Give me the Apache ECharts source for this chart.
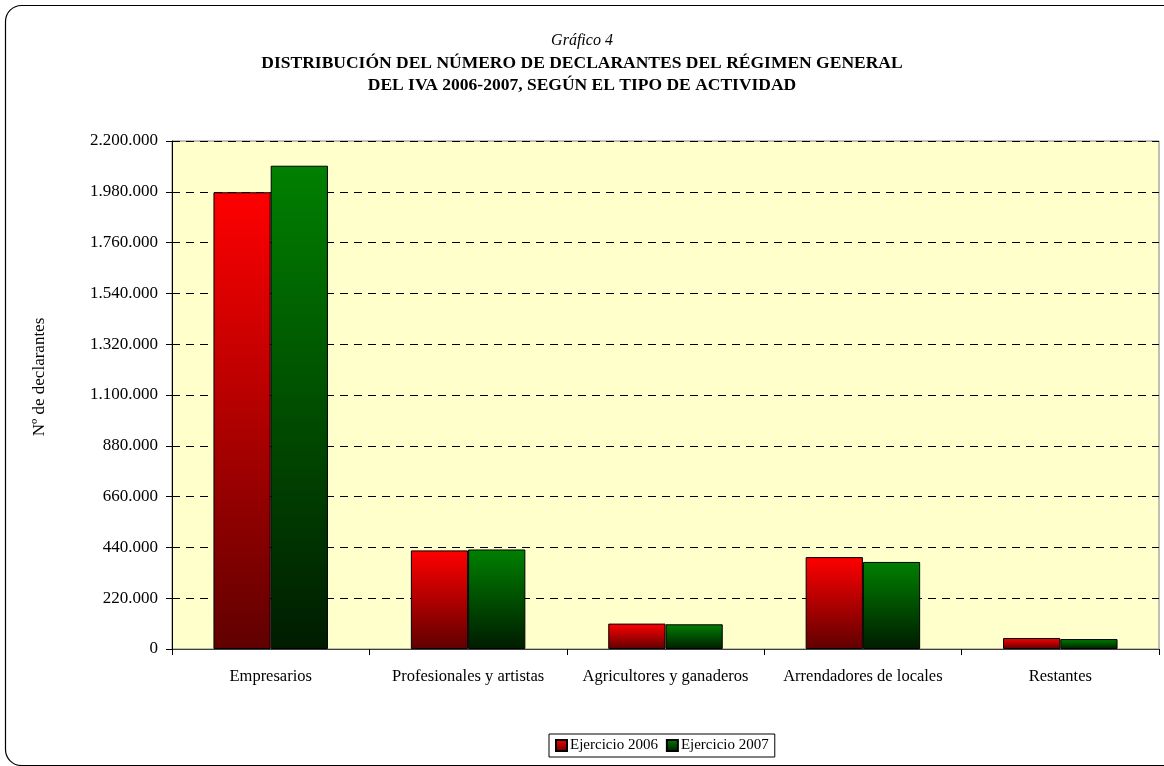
<!DOCTYPE html>
<html>
<head>
<meta charset="utf-8">
<script src="https://cdn.jsdelivr.net/npm/echarts@6/dist/echarts.min.js"></script>
<style>
html,body{margin:0;padding:0;background:#fff;}
#chart{width:1164px;height:766px;}
</style>
</head>
<body>
<div id="chart"></div>
<script>
const categories = ['Empresarios', 'Profesionales y artistas', 'Agricultores y ganaderos', 'Arrendadores de locales', 'Restantes'];
const seriesNames = ['Ejercicio 2006', 'Ejercicio 2007'];
const values2006 = [1978000, 427000, 110000, 398000, 47500];
const values2007 = [2093000, 431000, 107000, 377000, 43000];
const yTicks = { min: 0, max: 2200000, interval: 220000 };
const titleLines = ['Gráfico 4', 'DISTRIBUCIÓN DEL NÚMERO DE DECLARANTES DEL RÉGIMEN GENERAL', 'DEL IVA 2006-2007, SEGÚN EL TIPO DE ACTIVIDAD'];
const yAxisTitle = 'Nº de declarantes';

const FONT = '"Liberation Serif", "Times New Roman", serif';
function fmt(v){ return String(v).replace(/\B(?=(\d{3})+(?!\d))/g, '.'); }
function grad(top, bottom){
  return new echarts.graphic.LinearGradient(0,0,0,1,[{offset:0,color:top},{offset:1,color:bottom}]);
}
const chart = echarts.init(document.getElementById('chart'), null, {renderer:'canvas'});
chart.setOption({
  backgroundColor: '#ffffff',
  animation: false,
  textStyle: { fontFamily: FONT, color: '#000' },
  title: {
    left: 'center', top: 25,
    text: '{i|' + titleLines[0] + '}\n{b|' + titleLines[1] + '}\n{b|' + titleLines[2] + '}',
    textStyle: {
      fontWeight: 'normal',
      rich: {
        i: { fontFamily: FONT, fontStyle: 'italic', fontWeight: 'normal', fontSize: 16, lineHeight: 22, color: '#000' },
        b: { fontFamily: FONT, fontWeight: 'bold', fontSize: 17.5, lineHeight: 22, color: '#000' }
      }
    }
  },
  grid: { left: 172, right: 5, top: 141, bottom: 117, show: true, backgroundColor: '#FFFFCC', borderColor: '#808080', borderWidth: 1 },
  legend: {
    left: 549, top: 734,
    padding: [4, 6, 4, 6],
    borderColor: '#000', borderWidth: 1,
    itemWidth: 11, itemHeight: 11, itemGap: 8,
    icon: 'rect',
    textStyle: { fontFamily: FONT, fontSize: 15, color: '#000', padding: [0,0,0,-2] },
    data: seriesNames
  },
  xAxis: {
    type: 'category',
    data: categories,
    axisLine: { lineStyle: { color: '#404040', width: 1 } },
    axisTick: { show: true, interval: 0, length: 6, lineStyle: { color: '#000' } },
    axisLabel: { interval: 0, fontFamily: FONT, fontSize: 16.5, color: '#000', margin: 19 },
    splitLine: { show: false }
  },
  yAxis: {
    type: 'value',
    min: yTicks.min, max: yTicks.max, interval: yTicks.interval,
    axisLine: { show: true, lineStyle: { color: '#000', width: 1 } },
    axisTick: { show: true, length: 6, lineStyle: { color: '#000' } },
    axisLabel: { fontFamily: FONT, fontSize: 17, color: '#000', margin: 14, formatter: fmt },
    splitLine: { show: true, lineStyle: { color: '#000', type: [8, 6], width: 1 } }
  },
  graphic: [
    { type: 'rect', silent: true, z: -1, shape: { x: 5.5, y: 5.5, width: 1300, height: 760, r: 16 }, style: { fill: 'none', stroke: '#000', lineWidth: 1.2 } },
    { type: 'text', x: 40, y: 377, rotation: Math.PI / 2, style: { text: yAxisTitle, font: '17px ' + FONT, fill: '#000', align: 'center', verticalAlign: 'middle' } }
  ],
  series: [
    { name: seriesNames[0], type: 'bar', data: values2006, barWidth: '29%', barGap: '0%',
      itemStyle: { color: grad('#FF0000', '#600000'), borderColor: '#000', borderWidth: 1 } },
    { name: seriesNames[1], type: 'bar', data: values2007, barWidth: '29%', barGap: '0%',
      itemStyle: { color: grad('#008000', '#001C00'), borderColor: '#000', borderWidth: 1 } }
  ]
});
</script>
</body>
</html>
